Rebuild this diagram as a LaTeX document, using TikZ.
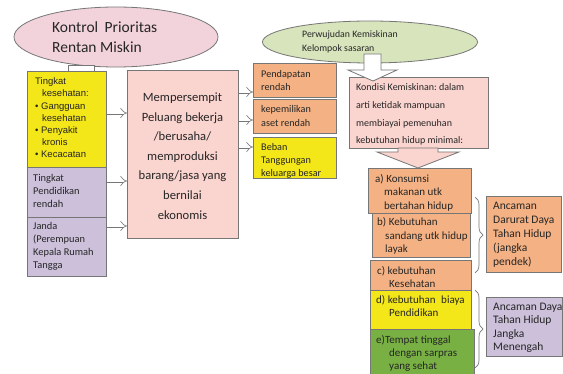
\documentclass[tikz,border=0pt]{standalone}
\usepackage{fontspec}
\setmainfont{Carlito}
\newfontfamily\arialf{Liberation Sans}
\usetikzlibrary{shapes.geometric,arrows.meta,decorations.pathreplacing}
\definecolor{lc}{HTML}{767676}
\definecolor{pinkE}{HTML}{F3D3DB}
\definecolor{greenE}{HTML}{D8E4BC}
\definecolor{pinkB}{HTML}{FAD4CF}
\definecolor{orangeB}{HTML}{F4B183}
\definecolor{yellowB}{HTML}{F3E619}
\definecolor{purpleB}{HTML}{CCC0DA}
\definecolor{greenB}{HTML}{78B043}
\definecolor{txtc}{HTML}{262626}
\newcommand\fs[2]{\fontsize{#1}{#2}\selectfont}
\frenchspacing
\begin{document}
\begin{tikzpicture}[x=1pt,y=-1pt,
  box/.style={draw=lc, line width=0.8pt, rectangle, anchor=north west, inner sep=0pt},
  ell/.style={draw=lc, line width=0.8pt, ellipse, inner sep=0pt},
  txt/.style={anchor=west, align=left, inner sep=0pt, text=txtc},
  fatw/.style={draw=lc, line width=0.8pt, fill=white, line join=miter},
  harrow/.style={draw=lc, line width=0.6pt, double=white, double distance=3pt, -{Implies}},
  brc/.style={draw=lc, line width=0.7pt, decorate, decoration={brace, amplitude=8pt}}]
\useasboundingbox (0,0) rectangle (563,374);
\fill[white] (0,0) rectangle (563,374);

% ellipses
\node[ell, fill=pinkE, minimum width=204pt, minimum height=60pt] (kontrol) at (116,37) {};
\node[ell, fill=greenE, minimum width=215pt, minimum height=42pt] (perw) at (370,42) {};

% tab under first ellipse
\draw[fatw] (68,65) rectangle (94,72);

% left column
\node[box, fill=yellowB, minimum width=79pt, minimum height=96pt] (kes) at (27,71) {};
\node[box, fill=purpleB, minimum width=79pt, minimum height=50pt] (pend) at (27,167) {};
\node[box, fill=purpleB, minimum width=79pt, minimum height=59pt] (janda) at (27,217) {};

% central box
\node[box, fill=pinkB, minimum width=111pt, minimum height=168pt] (mem) at (127,70) {};

% right small boxes
\node[box, fill=orangeB, minimum width=83pt, minimum height=34pt] (pendap) at (253,63) {};
\node[box, fill=orangeB, minimum width=83pt, minimum height=34pt] (aset) at (253,99) {};
\node[box, fill=yellowB, minimum width=83pt, minimum height=41pt] (beban) at (253,137) {};

% kondisi
\node[box, fill=pinkB, minimum width=139pt, minimum height=71pt] (kond) at (349,77) {};

% needs column
\node[box, fill=orangeB, minimum width=103pt, minimum height=45pt] (ka) at (368,168) {};
\node[box, fill=orangeB, minimum width=98pt, minimum height=44pt] (kb) at (372,213) {};
\node[box, fill=orangeB, minimum width=101pt, minimum height=30pt] (kc) at (370,260) {};
\node[box, fill=yellowB, minimum width=101pt, minimum height=39pt] (kd) at (370,290) {};
\node[box, fill=greenB, minimum width=104pt, minimum height=50pt] (ke) at (370,329) {};

% threat boxes
\node[box, fill=orangeB, minimum width=75pt, minimum height=76pt] (anc1) at (486,196) {};
\node[box, fill=purpleB, minimum width=76pt, minimum height=59pt] (anc2) at (486,297) {};

% fat arrows
\draw[fatw] (364,54) -- (381,54) -- (381,70) -- (397,70) -- (373,81) -- (348,70) -- (364,70) -- cycle;
\draw[fatw, fill=pinkB] (398,148) -- (438,148) -- (438,152) -- (459,152) -- (418,168) -- (377,152) -- (398,152) -- cycle;

% hollow arrows
\coordinate (h1) at (0,113);
\coordinate (h2) at (0,181);
\coordinate (h3) at (0,226);
\coordinate (h4) at (0,92);
\coordinate (h5) at (0,120);
\coordinate (h6) at (0,147);
\draw[harrow] (kes.east |- h1) -- (mem.west |- h1);
\draw[harrow] (pend.east |- h2) -- (mem.west |- h2);
\draw[harrow] (janda.east |- h3) -- (mem.west |- h3);
\draw[harrow] (mem.east |- h4) -- (pendap.west |- h4);
\draw[harrow] (mem.east |- h5) -- (aset.west |- h5);
\draw[harrow] (mem.east |- h6) -- (beban.west |- h6);

% braces
\coordinate (b1a) at (475,197);
\coordinate (b1b) at (475,273);
\coordinate (b2a) at (475,290);
\coordinate (b2b) at (475,368);
\draw[brc] (b1a) -- (b1b);
\draw[brc] (b2a) -- (b2b);

% texts
\node[txt, font=\fs{15.5}{20}] (kontrol-t) at (52,37) {Kontrol\hspace{3pt} Prioritas\\Rentan Miskin};
\node[txt, font=\fs{9.8}{14}] (perw-t) at (302,42) {Perwujudan Kemiskinan\\Kelompok sasaran};
\node[txt, font=\arialf\fs{9.5}{12.2}] (kes-t) at (35,118) {Tingkat\\\hspace*{7pt}kesehatan:\\\textbullet\ Gangguan\\\hspace*{7pt}kesehatan\\\textbullet\ Penyakit\\\hspace*{7pt}kronis\\\textbullet\ Kecacatan};
\node[txt, font=\fs{10.4}{13}] (pend-t) at (33,191) {Tingkat\\Pendidikan\\rendah};
\node[txt, font=\fs{10.4}{13}] (janda-t) at (33,246.5) {Janda\\(Perempuan\\Kepala Rumah\\Tangga};
\node[txt, anchor=center, align=center, font=\fs{12.6}{19.6}] (mem-t) at (182.5,156) {Mempersempit\\Peluang bekerja\\/berusaha/\\memproduksi\\barang/jasa yang\\bernilai\\ekonomis};
\node[txt, font=\fs{10.2}{13.5}] (pendap-t) at (261,80.5) {Pendapatan\\rendah};
\node[txt, font=\fs{10.2}{13.5}] (aset-t) at (261,116) {kepemilikan\\aset rendah};
\node[txt, font=\fs{10.2}{13}] (beban-t) at (261,161) {Beban\\Tanggungan\\keluarga besar};
\node[txt, font=\fs{10}{17.7}] (kond-t) at (356,114.5) {Kondisi Kemiskinan: dalam\\arti ketidak mampuan\\membiayai pemenuhan\\kebutuhan hidup minimal:};
\node[txt, font=\fs{11}{13.5}] (ka-t) at (375,192.7) {a) Konsumsi\\\hspace*{9pt}makanan utk\\\hspace*{9pt}bertahan hidup};
\node[txt, font=\fs{11}{13.5}] (kb-t) at (377,236) {b) Kebutuhan\\\hspace*{8pt}sandang utk hidup\\\hspace*{8pt}layak};
\node[txt, font=\fs{11}{13}] (kc-t) at (377,277) {c) kebutuhan\\\hspace*{12pt}Kesehatan};
\node[txt, font=\fs{11}{13}] (kd-t) at (376,306.5) {d) kebutuhan\hspace{3pt} biaya\\\hspace*{13pt}Pendidikan};
\node[txt, font=\fs{11}{13}] (ke-t) at (376,353) {e)Tempat tinggal\\\hspace*{13pt}dengan sarpras\\\hspace*{13pt}yang sehat};
\node[txt, font=\fs{11.5}{14}] (anc1-t) at (493,235) {Ancaman\\Darurat Daya\\Tahan Hidup\\(jangka\\pendek)};
\node[txt, font=\fs{11.5}{13.5}] (anc2-t) at (493,328) {Ancaman Daya\\Tahan Hidup\\Jangka\\Menengah};
\end{tikzpicture}
\end{document}
